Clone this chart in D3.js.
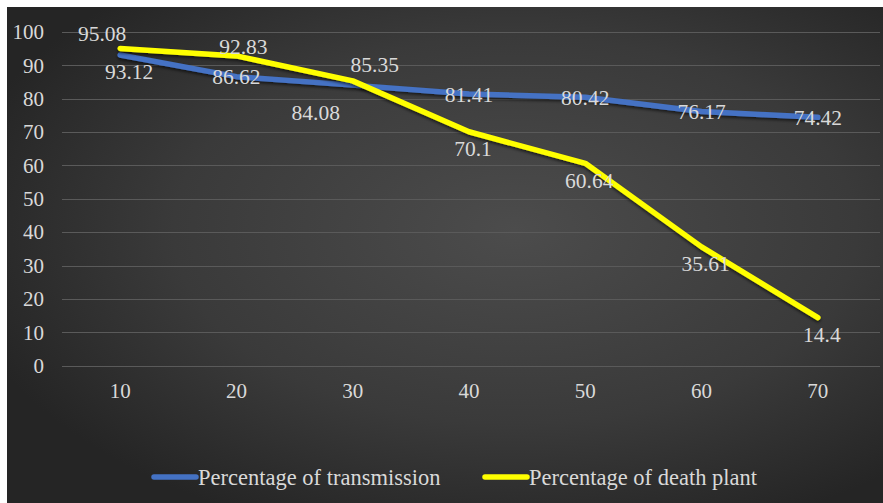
<!DOCTYPE html>
<html>
<head>
<meta charset="utf-8">
<script src="https://cdn.jsdelivr.net/npm/d3@7/dist/d3.min.js"></script>
<style>
  html, body { margin: 0; padding: 0; background: #ffffff; }
  svg { display: block; }
</style>
</head>
<body>
<svg id="chart" width="883" height="503"></svg>
<script>
// Categories on the x axis
const categories = ["10", "20", "30", "40", "50", "60", "70"];
// Series values
const transmission = [93.12, 86.62, 84.08, 81.41, 80.42, 76.17, 74.42];
const deathPlant   = [95.08, 92.83, 85.35, 70.1, 60.64, 35.61, 14.4];
// Where each value label sits relative to its point
const transmissionLabelSide = ["belowRight", "center", "belowLeft", "center", "center", "center", "center"];
const deathPlantLabelSide   = ["aboveLeft", "above", "aboveRight", "below", "below", "below", "below"];
// Y axis ticks
const yTicks = [0, 10, 20, 30, 40, 50, 60, 70, 80, 90, 100];
const seriesNames = ["Percentage of transmission", "Percentage of death plant"];

const W = 883, H = 503;
const FONT = "'Liberation Serif', 'Times New Roman', serif";
const TEXT_COLOR = "#d9d9d9";
const svg = d3.select("#chart");

// Background panel with a soft radial shading
const defs = svg.append("defs");
const grad = defs.append("radialGradient")
  .attr("id", "bg").attr("cx", "58%").attr("cy", "45%").attr("r", "65%")
  .attr("fx", "58%").attr("fy", "45%");
grad.append("stop").attr("offset", "0%").attr("stop-color", "#4c4c4c");
grad.append("stop").attr("offset", "60%").attr("stop-color", "#3a3a3a");
grad.append("stop").attr("offset", "100%").attr("stop-color", "#252525");

const shadow = defs.append("filter").attr("id", "shadow")
  .attr("x", "-10%").attr("y", "-10%").attr("width", "120%").attr("height", "130%");
shadow.append("feDropShadow").attr("dx", 0).attr("dy", 2).attr("stdDeviation", 1.5)
  .attr("flood-color", "#000").attr("flood-opacity", 0.6);

svg.append("rect").attr("x", 7).attr("y", 7).attr("width", W - 7).attr("height", H - 7)
  .attr("fill", "url(#bg)");

const plot = { left: 62, right: 876, top: 32, bottom: 365.7 };

const x = d3.scaleBand().domain(categories).range([plot.left, plot.right]);
const y = d3.scaleLinear().domain([0, 100]).range([plot.bottom, plot.top]);
const cx = c => x(c) + x.bandwidth() / 2;

// Gridlines
svg.append("g").selectAll("line").data(yTicks).join("line")
  .attr("x1", plot.left).attr("x2", plot.right + 4)
  .attr("y1", d => Math.round(y(d)) + 0.5).attr("y2", d => Math.round(y(d)) + 0.5)
  .attr("stroke", "#5a5a5a").attr("stroke-width", 1);

// Y axis labels
const yAxis = d3.axisLeft(y).tickValues(yTicks).tickSize(0).tickPadding(0);
const gy = svg.append("g").attr("transform", "translate(44,0)").call(yAxis);
gy.select(".domain").remove();
gy.selectAll("text").attr("fill", TEXT_COLOR)
  .style("font-family", FONT).style("font-size", "21px");

// X axis labels
const xAxis = d3.axisBottom(x).tickSize(0).tickPadding(0);
const gx = svg.append("g").attr("transform", "translate(0,383)").call(xAxis);
gx.select(".domain").remove();
gx.selectAll("text").attr("fill", TEXT_COLOR)
  .style("font-family", FONT).style("font-size", "21px");

// Lines
const line = d3.line().x((d, i) => cx(categories[i])).y(d => y(d));
const series = [
  { name: seriesNames[0], values: transmission, color: "#4472C4", sides: transmissionLabelSide },
  { name: seriesNames[1], values: deathPlant, color: "#FFFF00", sides: deathPlantLabelSide }
];

series.forEach(s => {
  svg.append("path").datum(s.values)
    .attr("d", line).attr("fill", "none")
    .attr("stroke", s.color).attr("stroke-width", 5.5)
    .attr("stroke-linejoin", "round").attr("stroke-linecap", "round")
    .attr("filter", "url(#shadow)");
});

// Value labels
const sideOffset = {
  center:     [0, 0],
  above:      [7, -9],
  below:      [4, 17],
  aboveLeft:  [-18, -15],
  aboveRight: [22, -16],
  belowRight: [9, 17],
  belowLeft:  [-37, 27]
};
series.forEach(s => {
  svg.append("g").selectAll("text").data(s.values).join("text")
    .attr("x", (d, i) => cx(categories[i]) + sideOffset[s.sides[i]][0])
    .attr("y", (d, i) => y(d) + sideOffset[s.sides[i]][1])
    .attr("dy", "0.35em")
    .attr("text-anchor", "middle")
    .attr("fill", TEXT_COLOR)
    .style("font-family", FONT).style("font-size", "21.5px")
    .text(d => d);
});

// Legend
const legendY = 477;
const legendItems = [
  { x: 154, color: series[0].color, name: seriesNames[0] },
  { x: 485, color: series[1].color, name: seriesNames[1] }
];
const lg = svg.append("g");
legendItems.forEach(it => {
  lg.append("line").attr("x1", it.x).attr("x2", it.x + 42)
    .attr("y1", legendY).attr("y2", legendY)
    .attr("stroke", it.color).attr("stroke-width", 5.5).attr("stroke-linecap", "round");
  lg.append("text").attr("x", it.x + 44).attr("y", legendY).attr("dy", "0.35em")
    .attr("fill", TEXT_COLOR)
    .style("font-family", FONT).style("font-size", "22.5px")
    .text(it.name);
});
</script>
</body>
</html>
